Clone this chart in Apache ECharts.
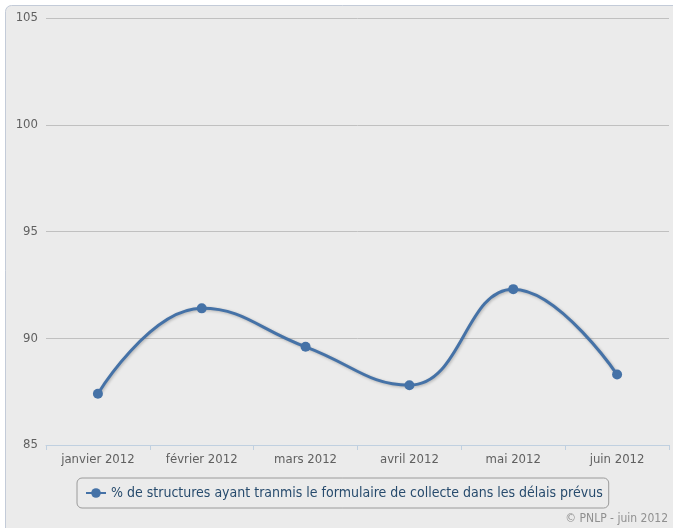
<!DOCTYPE html>
<html>
<head>
<meta charset="utf-8">
<script src="https://cdn.jsdelivr.net/npm/echarts@6/dist/echarts.min.js"></script>
<style>
  html, body { margin: 0; padding: 0; background: #fff; }
  #main { width: 673px; height: 528px; }
</style>
</head>
<body>
<div id="main"></div>
<script>
var months = ['janvier 2012', 'février 2012', 'mars 2012', 'avril 2012', 'mai 2012', 'juin 2012'];
var seriesName = '% de structures ayant tranmis le formulaire de collecte dans les délais prévus';
var rates = [87.4, 91.4, 89.6, 87.8, 92.3, 88.3];
var yTicks = { min: 85, max: 105, step: 5 };
var credit = '© PNLP - juin 2012';

var font = '"Liberation Sans Narrow", "DejaVu Sans Condensed", sans-serif';
var chart = echarts.init(document.getElementById('main'));

var option = {
  backgroundColor: '#ffffff',
  animation: false,
  textStyle: { fontFamily: font },
  graphic: [
    {
      type: 'rect',
      z: -10,
      shape: { x: 5.5, y: 5.5, width: 700, height: 560, r: 6 },
      style: { fill: '#ebebeb', stroke: '#c3cbd8', lineWidth: 1 }
    },
    {
      type: 'text',
      right: 5,
      bottom: 3,
      style: { text: credit, fill: '#909090', fontSize: 12, fontFamily: font }
    }
  ],
  grid: { left: 46, right: 4, top: 18, bottom: 83 },
  legend: {
    left: 77,
    top: 478,
    padding: [8, 6, 8, 8],
    borderColor: '#9a9a9a',
    borderWidth: 1,
    borderRadius: 5,
    itemWidth: 20,
    itemHeight: 12,
    itemGap: 5,
    textStyle: { color: '#274b6d', fontSize: 14, fontFamily: font },
    data: [seriesName]
  },
  xAxis: {
    type: 'category',
    data: months,
    boundaryGap: true,
    axisLine: { lineStyle: { color: '#c0d0e0', width: 1 } },
    axisTick: { show: true, length: 5, lineStyle: { color: '#c0d0e0' } },
    axisLabel: { color: '#606060', fontSize: 13, margin: 8, fontFamily: font },
    splitLine: { show: false }
  },
  yAxis: {
    type: 'value',
    min: yTicks.min,
    max: yTicks.max,
    interval: yTicks.step,
    axisLine: { show: false },
    axisTick: { show: false },
    axisLabel: { color: '#606060', fontSize: 13, margin: 8, fontFamily: font },
    splitLine: { lineStyle: { color: '#c0c0c0', width: 1 } }
  },
  series: [
    {
      name: seriesName,
      type: 'line',
      data: rates,
      smooth: 0.45,
      symbol: 'circle',
      symbolSize: 10,
      itemStyle: { color: '#4572a7' },
      lineStyle: {
        color: '#4572a7',
        width: 3,
        shadowColor: 'rgba(0,0,0,0.25)',
        shadowBlur: 3,
        shadowOffsetX: 1,
        shadowOffsetY: 1
      }
    }
  ]
};

chart.setOption(option);
</script>
</body>
</html>
